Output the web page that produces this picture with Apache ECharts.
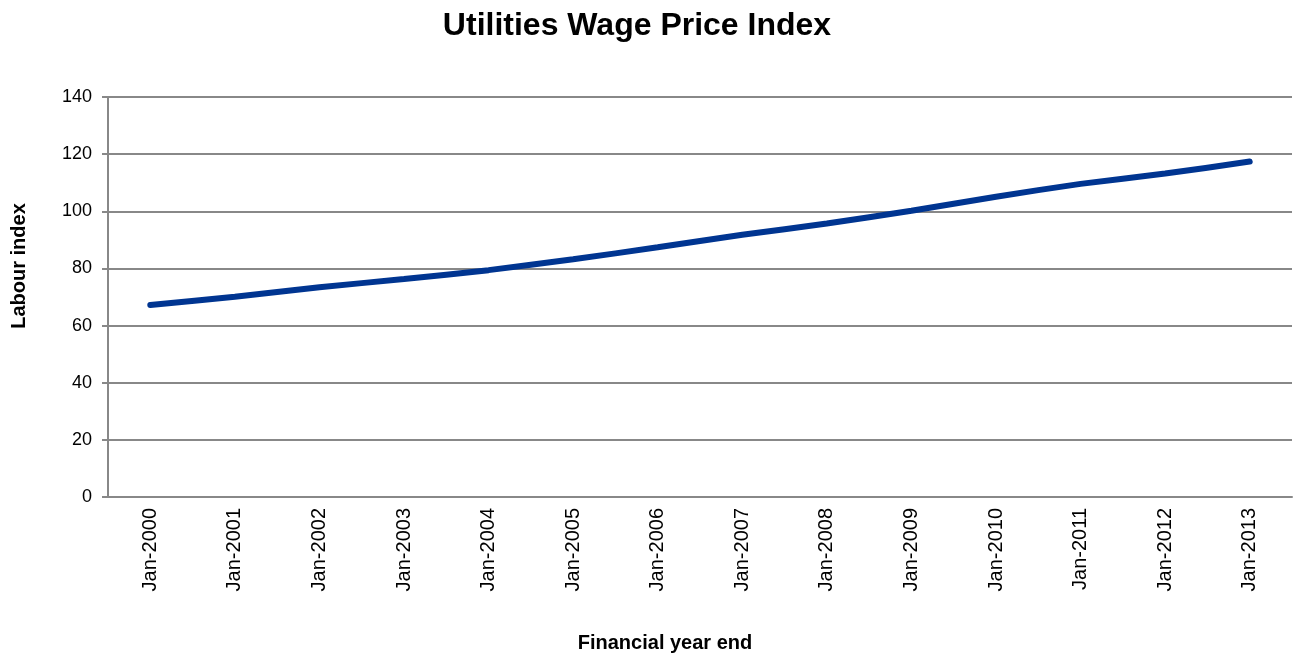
<!DOCTYPE html>
<html>
<head>
<meta charset="utf-8">
<script src="https://cdn.jsdelivr.net/npm/echarts@6/dist/echarts.min.js"></script>
<style>
  html, body { margin: 0; padding: 0; background: #fff; }
  #chart { width: 1295px; height: 654px; }
</style>
</head>
<body>
<div id="chart"></div>
<script>
// financial year end labels
const years = ["Jan-2000", "Jan-2001", "Jan-2002", "Jan-2003", "Jan-2004", "Jan-2005", "Jan-2006",
  "Jan-2007", "Jan-2008", "Jan-2009", "Jan-2010", "Jan-2011", "Jan-2012", "Jan-2013"];
// labour index values
const labourIndex = [67.2, 70.1, 73.4, 76.3, 79.4, 83.2, 87.4, 91.8, 95.7, 100.2, 105.1, 109.6, 113.2, 117.4];

const chart = echarts.init(document.getElementById("chart"));
const font = "Liberation Sans, Arial, sans-serif";
const axisGrey = "#888888";

chart.setOption({
  animation: false,
  title: {
    text: "Utilities Wage Price Index",
    left: 632,
    top: 5,
    textAlign: "center",
    textStyle: { fontFamily: font, fontSize: 32, fontWeight: "bold", color: "#000" },
  },
  grid: { left: 108, right: 3, top: 97, bottom: 157, outerBoundsMode: "none", containLabel: false },
  xAxis: {
    type: "category",
    data: years,
    boundaryGap: true,
    name: "Financial year end",
    nameLocation: "middle",
    nameGap: 136,
    nameTextStyle: { fontFamily: font, fontSize: 20, fontWeight: "bold", color: "#000", padding: [0, 70, 0, 0] },
    axisLine: { lineStyle: { color: axisGrey, width: 2 } },
    axisTick: { alignWithLabel: false, length: 6, lineStyle: { color: axisGrey, width: 2 } },
    axisLabel: { rotate: 90, margin: 11, fontFamily: font, fontSize: 20, color: "#000" },
    splitLine: { show: false },
  },
  yAxis: {
    type: "value",
    min: 0,
    max: 140,
    interval: 20,
    name: "Labour index",
    nameLocation: "middle",
    nameGap: 79,
    nameRotate: 90,
    nameTextStyle: { fontFamily: font, fontSize: 20, fontWeight: "bold", color: "#000", padding: [0, 0, 0, 62] },
    axisLine: { show: true, lineStyle: { color: axisGrey, width: 2 } },
    axisTick: { show: true, length: 6, lineStyle: { color: axisGrey, width: 2 } },
    axisLabel: { margin: 16, fontFamily: font, fontSize: 18, color: "#000" },
    splitLine: { lineStyle: { color: axisGrey, width: 2 } },
  },
  series: [
    {
      name: "Labour index",
      type: "line",
      data: labourIndex,
      smooth: 0.2,
      symbol: "none",
      lineStyle: { color: "#003591", width: 6, cap: "round" },
    },
  ],
});
</script>
</body>
</html>
